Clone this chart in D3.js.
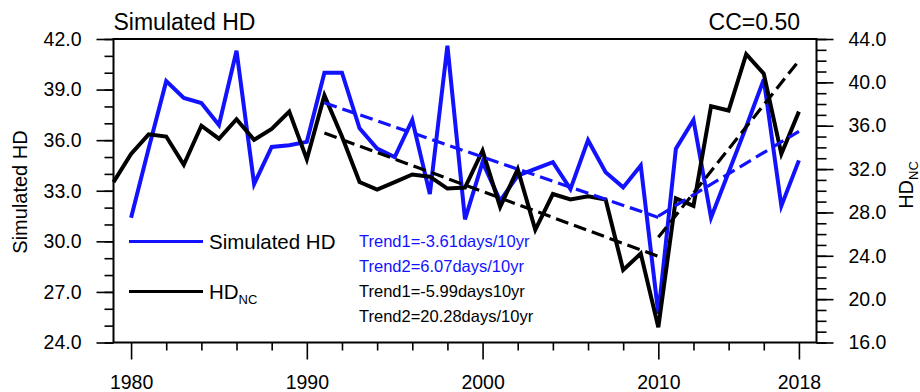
<!DOCTYPE html>
<html>
<head>
<meta charset="utf-8">
<script src="https://cdn.jsdelivr.net/npm/d3@7"></script>
<style>
  body { margin: 0; background: #fff; }
  text { font-family: "Liberation Sans", Arial, Helvetica, sans-serif; }
</style>
</head>
<body>
<div id="chart"></div>
<script>
// years
var simYears = d3.range(1980, 2019);
var ncYears = d3.range(1979, 2019);

// Simulated HD (left axis), 1980-2018
var simHD = [31.4, 35.5, 39.5, 38.5, 38.2, 36.9, 41.3, 33.4, 35.6, 35.7,
  35.9, 40.0, 40.0, 36.7, 35.5, 35.0, 37.2, 32.8, 41.6, 31.3,
  34.7, 32.4, 33.9, 34.3, 34.7, 33.1, 36.0, 34.1, 33.2, 34.5,
  25.7, 35.5, 37.2, 31.4, 34.1, 36.8, 39.6, 32.1, 34.8];

// HD_NC (right axis), 1979-2018
var hdNC = [30.8, 33.4, 35.2, 35.0, 32.4, 36.0, 34.8, 36.6, 34.7, 35.7,
  37.3, 32.9, 38.8, 35.0, 30.8, 30.1, 30.8, 31.5, 31.3, 30.2,
  30.3, 33.7, 28.5, 32.0, 26.4, 29.7, 29.2, 29.5, 29.2, 22.7,
  24.2, 17.4, 29.3, 28.6, 37.8, 37.4, 42.6, 40.8, 33.4, 37.3];

// trend segments (end points)
var trendYears1 = [1991, 2010];
var trendYears2 = [2010, 2018];
var simTrend1 = [38.22, 31.42];
var simTrend2 = [31.5, 36.52];
var ncTrend1 = [35.32, 23.94];
var ncTrend2 = [25.7, 42.0];

var trendLabels = ["Trend1=-3.61days/10yr", "Trend2=6.07days/10yr",
  "Trend1=-5.99days10yr", "Trend2=20.28days/10yr"];

var xMajor = [1980, 1990, 2000, 2010, 2018];
var leftTicks = d3.range(24, 42.1, 3);
var rightTicks = d3.range(16, 44.1, 4);

var blue = "#1212ff";
var W = 920, H = 392;
var L = 113.5, R = 816.5, T = 39, B = 342.5;

var svg = d3.select("#chart").append("svg")
  .attr("width", W).attr("height", H);

var x = d3.scaleLinear().domain([1979, 2019]).range([L, R]);
var yL = d3.scaleLinear().domain([24, 42]).range([B, T]);
var yR = d3.scaleLinear().domain([16, 44]).range([B, T]);

function styleAxis(g) {
  g.select(".domain").remove();
  g.selectAll("line").attr("stroke", "#000").attr("stroke-width", 1.6);
  g.selectAll("text").attr("font-size", 19.5).attr("fill", "#000")
    .attr("font-family", '"Liberation Sans", Arial, sans-serif');
}

// x axis
svg.append("g").attr("transform", "translate(0," + B + ")")
  .call(d3.axisBottom(x).tickValues(d3.range(1980, 2019, 2).filter(d => xMajor.indexOf(d) < 0))
    .tickSize(8).tickFormat(""))
  .call(styleAxis);
svg.append("g").attr("transform", "translate(0," + B + ")")
  .call(d3.axisBottom(x).tickValues(xMajor).tickSize(17).tickPadding(16).tickFormat(d3.format("d")))
  .call(styleAxis);

// left axis
svg.append("g").attr("transform", "translate(" + L + ",0)")
  .call(d3.axisLeft(yL).tickValues(d3.range(24, 42.1, 1)).tickSize(9).tickFormat(""))
  .call(styleAxis);
svg.append("g").attr("transform", "translate(" + L + ",0)")
  .call(d3.axisLeft(yL).tickValues(leftTicks).tickSize(17).tickPadding(15).tickFormat(d3.format(".1f")))
  .call(styleAxis);

// right axis
svg.append("g").attr("transform", "translate(" + R + ",0)")
  .call(d3.axisRight(yR).tickValues(d3.range(16, 44.1, 1)).tickSize(10).tickFormat(""))
  .call(styleAxis);
svg.append("g").attr("transform", "translate(" + R + ",0)")
  .call(d3.axisRight(yR).tickValues(rightTicks).tickSize(17).tickPadding(15).tickFormat(d3.format(".1f")))
  .call(styleAxis);

// series
var simLine = d3.line().x((d, i) => x(simYears[i])).y(d => yL(d));
var ncLine = d3.line().x((d, i) => x(ncYears[i])).y(d => yR(d));

svg.append("path").datum(simHD).attr("d", simLine)
  .attr("fill", "none").attr("stroke", blue).attr("stroke-width", 4).attr("stroke-linejoin", "miter");
svg.append("path").datum(hdNC).attr("d", ncLine)
  .attr("fill", "none").attr("stroke", "#000").attr("stroke-width", 4).attr("stroke-linejoin", "miter");

// trends
function trend(vals, yrs, ys, col) {
  svg.append("path").datum(vals)
    .attr("d", d3.line().x((d, i) => x(yrs[i])).y(d => ys(d)))
    .attr("fill", "none").attr("stroke", col).attr("stroke-width", 3.2)
    .attr("stroke-dasharray", "13,6");
}
trend(simTrend1, trendYears1, yL, blue);
trend(simTrend2, trendYears2, yL, blue);
trend(ncTrend1, trendYears1, yR, "#000");
trend(ncTrend2, trendYears2, yR, "#000");

// frame
svg.append("rect").attr("x", L).attr("y", T).attr("width", R - L).attr("height", B - T)
  .attr("fill", "none").attr("stroke", "#000").attr("stroke-width", 2);

// titles
svg.append("text").attr("x", L).attr("y", 30).attr("font-size", 23).text("Simulated HD");
svg.append("text").attr("x", 800).attr("y", 30).attr("font-size", 23)
  .attr("text-anchor", "end").text("CC=0.50");

svg.append("text").attr("transform", "translate(27,192) rotate(-90)")
  .attr("text-anchor", "middle").attr("font-size", 20).text("Simulated HD");
var rl = svg.append("text").attr("transform", "translate(913,185) rotate(-90)")
  .attr("text-anchor", "middle").attr("font-size", 20);
rl.append("tspan").text("HD");
rl.append("tspan").attr("font-size", 13).attr("dy", 5).text("NC");

// legend
svg.append("line").attr("x1", 129).attr("x2", 203).attr("y1", 241.5).attr("y2", 241.5)
  .attr("stroke", blue).attr("stroke-width", 3);
svg.append("text").attr("x", 209).attr("y", 248.5).attr("font-size", 20.5).text("Simulated HD");
svg.append("line").attr("x1", 129).attr("x2", 203).attr("y1", 291.5).attr("y2", 291.5)
  .attr("stroke", "#000").attr("stroke-width", 3);
var lg = svg.append("text").attr("x", 209).attr("y", 298.5).attr("font-size", 20.5);
lg.append("tspan").text("HD");
lg.append("tspan").attr("font-size", 13).attr("dy", 5).text("NC");

// trend labels
svg.selectAll(".tl").data(trendLabels).enter().append("text")
  .attr("class", "tl")
  .attr("x", 359).attr("y", (d, i) => 246.5 + i * 25)
  .attr("font-size", 16.5)
  .attr("fill", (d, i) => i < 2 ? blue : "#000")
  .text(d => d);
</script>
</body>
</html>
